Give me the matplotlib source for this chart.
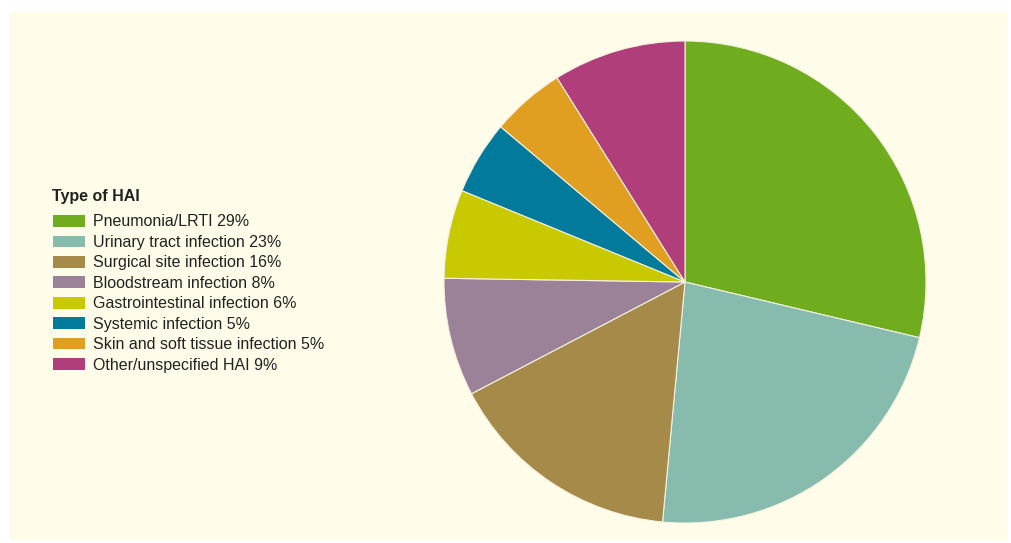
import matplotlib.pyplot as plt
from matplotlib.patches import Patch

plt.rcParams['font.family'] = ['Liberation Sans', 'DejaVu Sans']

# ---------------- Data ----------------
categories = [
    "Pneumonia/LRTI",
    "Urinary tract infection",
    "Surgical site infection",
    "Bloodstream infection",
    "Gastrointestinal infection",
    "Systemic infection",
    "Skin and soft tissue infection",
    "Other/unspecified HAI",
]
shares = [29, 23, 16, 8, 6, 5, 5, 9]
colors = ["#6fac1e", "#86bbad", "#a68a4a", "#9b8299",
          "#c9c900", "#017a9c", "#e19f22", "#b03e7a"]
legend_title = "Type of HAI"

bg = "#fffde9"

fig = plt.figure(figsize=(10.11, 5.43), dpi=100, facecolor="white")

# cream panel behind everything
panel = fig.add_axes([9 / 1011, 3 / 543, 999 / 1011, 528 / 543])
panel.set_facecolor(bg)
panel.set_xticks([])
panel.set_yticks([])
for s in panel.spines.values():
    s.set_visible(False)

# pie axes: centre (685, 282), radius 241 px
r = 241
ax = fig.add_axes([(685 - r) / 1011, (543 - 282 - r) / 543, 2 * r / 1011, 2 * r / 543])
ax.set_facecolor("none")
ax.pie(shares, colors=colors, startangle=90, counterclock=False,
       wedgeprops=dict(edgecolor="#f4f1e0", linewidth=0.8))
ax.set_xlim(-1, 1)
ax.set_ylim(-1, 1)
ax.set_aspect("equal")
ax.axis("off")

# legend title drawn separately so its gap can be matched
fig.text(52 / 1011, 1 - 196 / 543, legend_title, fontsize=11.5,
         fontweight="bold", color="#222222", va="center", ha="left")

handles = [Patch(facecolor=c, edgecolor="none") for c in colors]
labels = [f"{n} {v}%" for n, v in zip(categories, shares)]
leg = fig.legend(handles, labels, loc="upper left",
                 bbox_to_anchor=(53 / 1011, 1 - 214.5 / 543),
                 frameon=False, fontsize=11.5,
                 handlelength=2.0, handleheight=0.75,
                 handletextpad=0.5, labelspacing=0.34, borderpad=0,
                 borderaxespad=0)
for t in leg.get_texts():
    t.set_color("#222222")

fig.savefig("out.png", dpi=100, facecolor="white")
